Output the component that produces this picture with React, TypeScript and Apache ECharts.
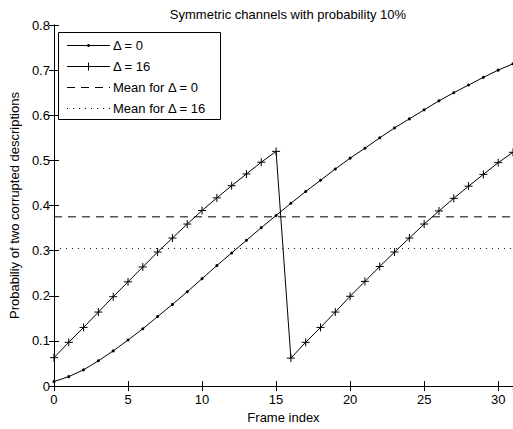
import React, { useEffect, useRef } from "react";
import * as echarts from "echarts";

const titleText = "Symmetric channels with probability 10%";
const xName = "Frame index";
const yName = "Probabiliy of two corrupted descriptions";

const frameIndex = [
  0, 1, 2, 3, 4, 5, 6, 7, 8, 9, 10, 11, 12, 13, 14, 15,
  16, 17, 18, 19, 20, 21, 22, 23, 24, 25, 26, 27, 28, 29, 30, 31,
];

const delta0 = [
  0.010, 0.021, 0.036, 0.056, 0.078, 0.102, 0.127, 0.154, 0.181, 0.209, 0.238,
  0.267, 0.295, 0.323, 0.351, 0.378, 0.405, 0.431, 0.456, 0.481, 0.505, 0.527,
  0.550, 0.572, 0.592, 0.612, 0.632, 0.650, 0.667, 0.684, 0.700, 0.714,
];

const delta16 = [
  0.063, 0.097, 0.130, 0.164, 0.198, 0.231, 0.264, 0.297, 0.328, 0.359, 0.389,
  0.417, 0.444, 0.470, 0.496, 0.520, 0.062, 0.097, 0.130, 0.164, 0.199, 0.232,
  0.265, 0.297, 0.328, 0.359, 0.388, 0.416, 0.443, 0.469, 0.495, 0.518,
];

const meanDelta0 = 0.375;
const meanDelta16 = 0.305;

const seriesNames = ["Δ = 0", "Δ = 16", "Mean for Δ = 0", "Mean for Δ = 16"];

const FONT = "'Liberation Sans', Arial, Helvetica, sans-serif";
const PLUS = "path://M4,0L4,8M0,4L8,4";

export default function App() {
  const ref = useRef<HTMLDivElement>(null);

  useEffect(() => {
    document.body.style.margin = "0";
    const chart = echarts.init(ref.current!, null, { renderer: "svg" });

    const pairs = (ys: number[]) => frameIndex.map((x, i) => [x, ys[i]]);
    const xMin = frameIndex[0];
    const xMax = frameIndex[frameIndex.length - 1];

    const axisLine = { show: true, lineStyle: { color: "#000", width: 1 } };
    const axisTick = { show: true, inside: true, length: 5, lineStyle: { color: "#000", width: 1 } };
    const axisLabel = { color: "#000", fontSize: 13, fontFamily: FONT };

    const rowY = (i: number) => 13.5 + i * 21;
    const lx0 = 9;
    const lx1 = 52;
    const legendChildren: any[] = [
      {
        type: "rect",
        shape: { x: 0.5, y: 0.5, width: 162, height: 87 },
        style: { fill: "#fff", stroke: "#000", lineWidth: 1 },
      },
    ];
    const lineStyles = [
      { stroke: "#000", lineWidth: 1 },
      { stroke: "#000", lineWidth: 1 },
      { stroke: "#000", lineWidth: 1, lineDash: [8, 6] },
      { stroke: "#000", lineWidth: 1, lineDash: [1, 5] },
    ];
    seriesNames.forEach((name, i) => {
      const y = rowY(i);
      legendChildren.push({
        type: "line",
        shape: { x1: lx0, y1: y, x2: lx1, y2: y },
        style: lineStyles[i],
      });
      legendChildren.push({
        type: "text",
        x: 55,
        y: y,
        style: {
          text: name,
          font: `13px ${FONT}`,
          fill: "#000",
          textVerticalAlign: "middle",
          textAlign: "left",
        },
      });
    });
    const cx = (lx0 + lx1) / 2;
    legendChildren.push({
      type: "circle",
      shape: { cx: cx, cy: rowY(0), r: 1.5 },
      style: { fill: "#000" },
    });
    legendChildren.push({
      type: "line",
      shape: { x1: cx - 4, y1: rowY(1), x2: cx + 4, y2: rowY(1) },
      style: { stroke: "#000", lineWidth: 1 },
    });
    legendChildren.push({
      type: "line",
      shape: { x1: cx, y1: rowY(1) - 4, x2: cx, y2: rowY(1) + 4 },
      style: { stroke: "#000", lineWidth: 1 },
    });

    chart.setOption({
      animation: false,
      backgroundColor: "#fff",
      title: {
        text: titleText,
        left: 283,
        top: 3,
        textAlign: "center",
        textStyle: { color: "#000", fontSize: 13, fontWeight: "normal", fontFamily: FONT },
      },
      grid: { left: 52, right: -1, top: 25, bottom: 41, containLabel: false },
      xAxis: [
        {
          type: "value",
          min: xMin,
          max: xMax,
          interval: 5,
          position: "bottom",
          axisLine,
          axisTick,
          axisLabel: { ...axisLabel, margin: 7, showMaxLabel: false },
          splitLine: { show: false },
          name: xName,
          nameLocation: "middle",
          nameGap: 23,
          nameTextStyle: { color: "#000", fontSize: 13, fontFamily: FONT },
        },
        {
          type: "value",
          min: xMin,
          max: xMax,
          interval: 5,
          position: "top",
          axisLine,
          axisTick,
          axisLabel: { show: false },
          splitLine: { show: false },
        },
      ],
      yAxis: [
        {
          type: "value",
          min: 0,
          max: 0.8,
          interval: 0.1,
          position: "left",
          axisLine,
          axisTick,
          axisLabel: { ...axisLabel, margin: 4 },
          splitLine: { show: false },
          name: yName,
          nameLocation: "middle",
          nameGap: 32,
          nameTextStyle: { color: "#000", fontSize: 13, fontFamily: FONT },
        },
        {
          type: "value",
          min: 0,
          max: 0.8,
          interval: 0.1,
          position: "right",
          axisLine,
          axisTick,
          axisLabel: { show: false },
          splitLine: { show: false },
        },
      ],
      series: [
        {
          name: seriesNames[0],
          type: "line",
          data: pairs(delta0),
          symbol: "circle",
          symbolSize: 3,
          lineStyle: { color: "#000", width: 1 },
          itemStyle: { color: "#000", borderWidth: 0 },
          z: 3,
        },
        {
          name: seriesNames[1],
          type: "line",
          data: pairs(delta16),
          symbol: PLUS,
          symbolSize: 8,
          lineStyle: { color: "#000", width: 1 },
          itemStyle: { color: "#000", borderColor: "#000", borderWidth: 1 },
          z: 3,
        },
        {
          name: seriesNames[2],
          type: "line",
          data: [[xMin, meanDelta0], [xMax, meanDelta0]],
          symbol: "none",
          lineStyle: { color: "#000", width: 1, type: [8, 6] },
          z: 2,
        },
        {
          name: seriesNames[3],
          type: "line",
          data: [[xMin, meanDelta16], [xMax, meanDelta16]],
          symbol: "none",
          lineStyle: { color: "#000", width: 1, type: [1, 5] },
          z: 2,
        },
      ],
      graphic: [
        {
          type: "group",
          x: 58,
          y: 32,
          z: 100,
          children: legendChildren,
        },
      ],
    });

    return () => chart.dispose();
  }, []);

  return (
    <div
      ref={ref}
      style={{ position: "absolute", left: 0, top: 0, width: 513, height: 429 }}
    />
  );
}
